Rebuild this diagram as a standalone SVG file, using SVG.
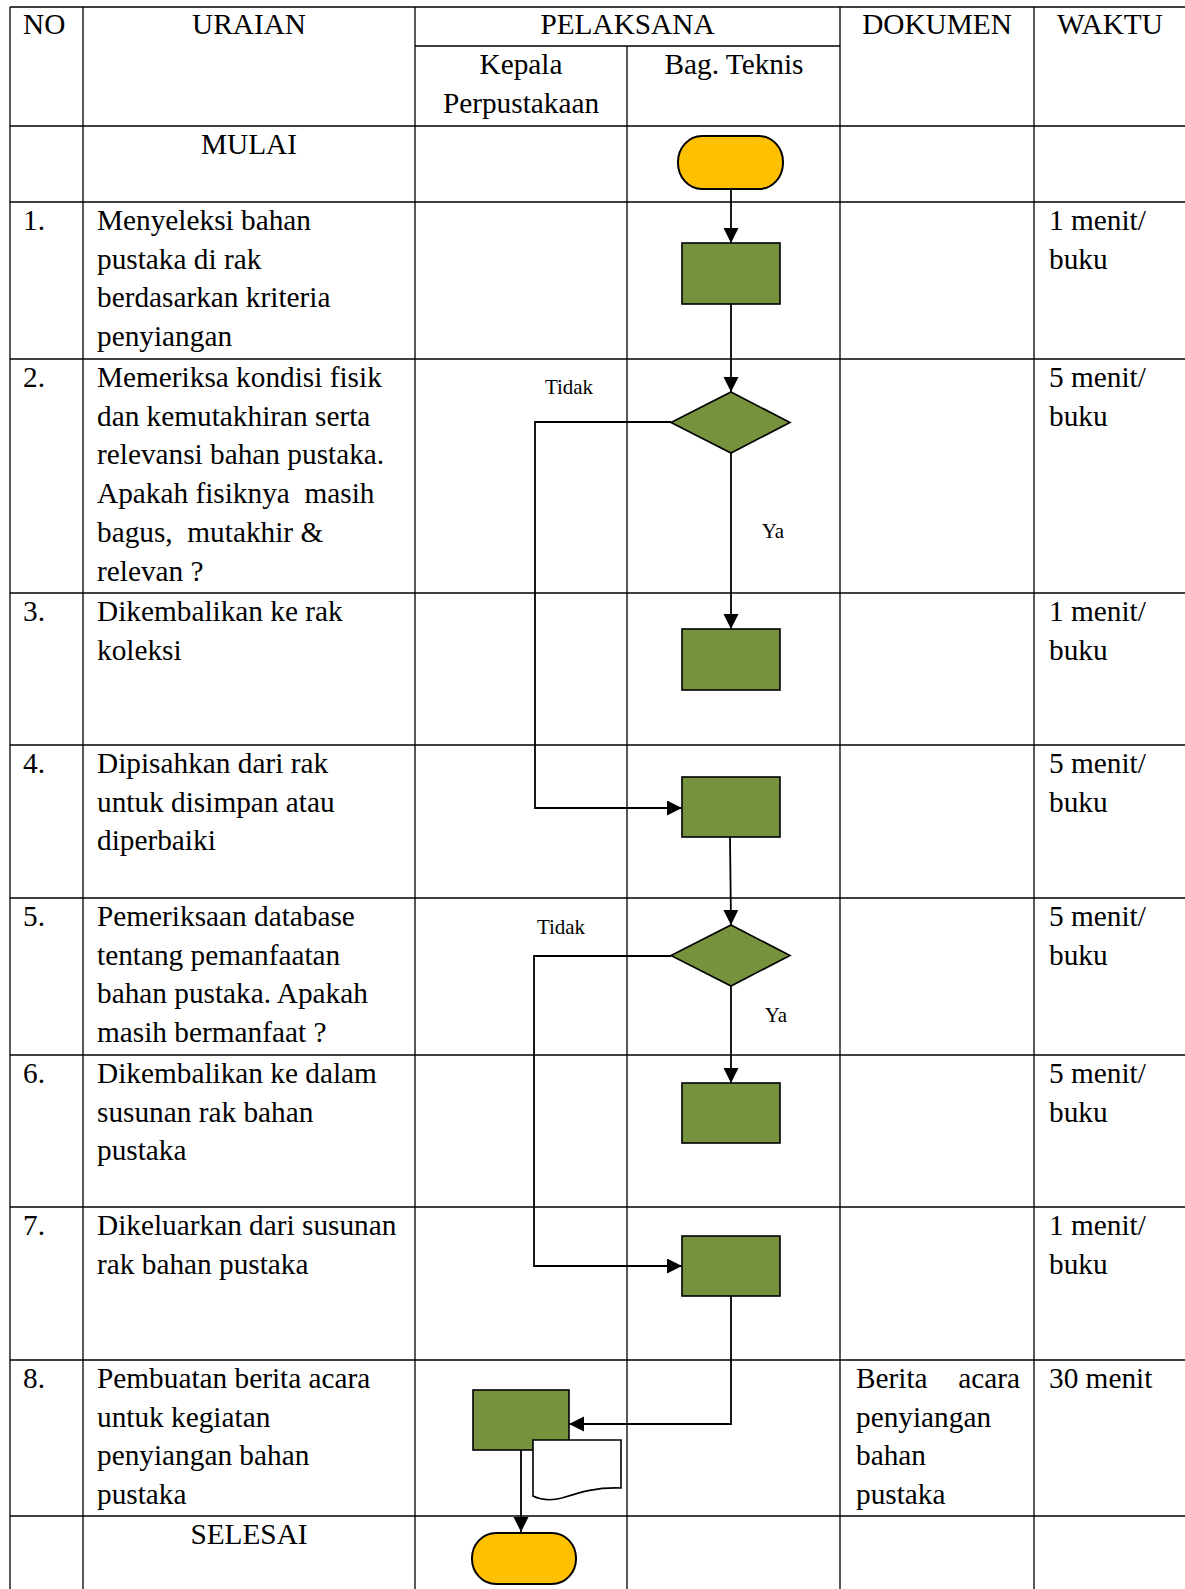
<svg xmlns="http://www.w3.org/2000/svg" width="1185" height="1589" viewBox="0 0 1185 1589">
<defs>
<style>
text{font-family:"Liberation Serif","Times New Roman",serif;font-size:29.3px;fill:#000}
.c{text-anchor:middle}
.s{font-size:21px}
.grid line{stroke:#000;stroke-width:1.3}
.proc{fill:#76923C;stroke:#000;stroke-width:1.6}
.term{fill:#FFC000;stroke:#000;stroke-width:2}
.doc{fill:#fff;stroke:#000;stroke-width:1.6}
.conn path{fill:none;stroke:#000;stroke-width:1.8}
</style>
<marker id="ah" markerUnits="userSpaceOnUse" markerWidth="16" markerHeight="16" refX="15" refY="7.5" orient="auto">
<path d="M0,0 L15,7.5 L0,15 Z" fill="#000"/>
</marker>
</defs>
<rect width="1185" height="1589" fill="#fff"/>
<g id="table" class="grid">
<line x1="10" y1="7" x2="1185" y2="7"/>
<line x1="415" y1="46" x2="840" y2="46"/>
<line x1="10" y1="126" x2="1185" y2="126"/>
<line x1="10" y1="202" x2="1185" y2="202"/>
<line x1="10" y1="359" x2="1185" y2="359"/>
<line x1="10" y1="593" x2="1185" y2="593"/>
<line x1="10" y1="745" x2="1185" y2="745"/>
<line x1="10" y1="898" x2="1185" y2="898"/>
<line x1="10" y1="1055" x2="1185" y2="1055"/>
<line x1="10" y1="1207" x2="1185" y2="1207"/>
<line x1="10" y1="1360" x2="1185" y2="1360"/>
<line x1="10" y1="1516" x2="1185" y2="1516"/>
<line x1="10" y1="7" x2="10" y2="1589"/>
<line x1="83" y1="7" x2="83" y2="1589"/>
<line x1="415" y1="7" x2="415" y2="1589"/>
<line x1="627" y1="46" x2="627" y2="1589"/>
<line x1="840" y1="7" x2="840" y2="1589"/>
<line x1="1034" y1="7" x2="1034" y2="1589"/>
</g>
<g id="header">
<text x="23" y="34">NO</text>
<text x="249" y="34" class="c">URAIAN</text>
<text x="627.5" y="34" class="c">PELAKSANA</text>
<text x="521" y="74" class="c">Kepala</text>
<text x="521" y="113" class="c">Perpustakaan</text>
<text x="734" y="74" class="c">Bag. Teknis</text>
<text x="937" y="34" class="c">DOKUMEN</text>
<text x="1110" y="34" class="c">WAKTU</text>
</g>
<g id="texts">
<text x="249" y="154" class="c">MULAI</text>
<text x="23" y="230">1.</text>
<text x="97" y="230">Menyeleksi bahan</text>
<text x="97" y="268.7">pustaka di rak</text>
<text x="97" y="307.4">berdasarkan kriteria</text>
<text x="97" y="346.1">penyiangan</text>
<text x="1049" y="230">1 menit/</text>
<text x="1049" y="268.7">buku</text>

<text x="23" y="387">2.</text>
<text x="97" y="387">Memeriksa kondisi fisik</text>
<text x="97" y="425.7">dan kemutakhiran serta</text>
<text x="97" y="464.4">relevansi bahan pustaka.</text>
<text x="97" y="503.1" xml:space="preserve">Apakah fisiknya  masih</text>
<text x="97" y="541.8" xml:space="preserve">bagus,  mutakhir &amp;</text>
<text x="97" y="580.5">relevan ?</text>
<text x="1049" y="387">5 menit/</text>
<text x="1049" y="425.7">buku</text>

<text x="23" y="621">3.</text>
<text x="97" y="621">Dikembalikan ke rak</text>
<text x="97" y="659.7">koleksi</text>
<text x="1049" y="621">1 menit/</text>
<text x="1049" y="659.7">buku</text>

<text x="23" y="773">4.</text>
<text x="97" y="773">Dipisahkan dari rak</text>
<text x="97" y="811.7">untuk disimpan atau</text>
<text x="97" y="850.4">diperbaiki</text>
<text x="1049" y="773">5 menit/</text>
<text x="1049" y="811.7">buku</text>

<text x="23" y="926">5.</text>
<text x="97" y="926">Pemeriksaan database</text>
<text x="97" y="964.7">tentang pemanfaatan</text>
<text x="97" y="1003.4">bahan pustaka. Apakah</text>
<text x="97" y="1042.1">masih bermanfaat ?</text>
<text x="1049" y="926">5 menit/</text>
<text x="1049" y="964.7">buku</text>

<text x="23" y="1083">6.</text>
<text x="97" y="1083">Dikembalikan ke dalam</text>
<text x="97" y="1121.7">susunan rak bahan</text>
<text x="97" y="1160.4">pustaka</text>
<text x="1049" y="1083">5 menit/</text>
<text x="1049" y="1121.7">buku</text>

<text x="23" y="1235">7.</text>
<text x="97" y="1235">Dikeluarkan dari susunan</text>
<text x="97" y="1273.7">rak bahan pustaka</text>
<text x="1049" y="1235">1 menit/</text>
<text x="1049" y="1273.7">buku</text>

<text x="23" y="1388">8.</text>
<text x="97" y="1388">Pembuatan berita acara</text>
<text x="97" y="1426.7">untuk kegiatan</text>
<text x="97" y="1465.4">penyiangan bahan</text>
<text x="97" y="1504.1">pustaka</text>
<text x="856" y="1388">Berita</text>
<text x="1020" y="1388" text-anchor="end">acara</text>
<text x="856" y="1426.7">penyiangan</text>
<text x="856" y="1465.4">bahan</text>
<text x="856" y="1504.1">pustaka</text>
<text x="1049" y="1388">30 menit</text>

<text x="249" y="1544" class="c">SELESAI</text>
</g>
<g id="connectors" class="conn">
<path d="M731,189 V243" marker-end="url(#ah)"/>
<path d="M731,304 V392" marker-end="url(#ah)"/>
<path d="M731,453 V629" marker-end="url(#ah)"/>
<path d="M671,422 H535 V808 H682" marker-end="url(#ah)"/>
<path d="M730,837 L731,925" marker-end="url(#ah)"/>
<path d="M731,986 V1083" marker-end="url(#ah)"/>
<path d="M671,956 H534 V1266 H682" marker-end="url(#ah)"/>
<path d="M731,1296 V1424 H569" marker-end="url(#ah)"/>
<path d="M521,1450 V1532" marker-end="url(#ah)"/>
</g>
<g id="labels">
<text x="569" y="394" class="c s">Tidak</text>
<text x="773" y="538" class="c s">Ya</text>
<text x="561" y="934" class="c s">Tidak</text>
<text x="776" y="1022" class="c s">Ya</text>
</g>
<g id="start"><rect class="term" x="678" y="136" width="105" height="53" rx="24" ry="26"/></g>
<g id="step1"><rect class="proc" x="682" y="243" width="98" height="61"/></g>
<g id="decision2"><polygon class="proc" points="731,392 790,422.5 731,453 671,422.5"/></g>
<g id="step3"><rect class="proc" x="682" y="629" width="98" height="61"/></g>
<g id="step4"><rect class="proc" x="682" y="777" width="98" height="60"/></g>
<g id="decision5"><polygon class="proc" points="731,925 790,955.5 731,986 671,955.5"/></g>
<g id="step6"><rect class="proc" x="682" y="1083" width="98" height="60"/></g>
<g id="step7"><rect class="proc" x="682" y="1236" width="98" height="60"/></g>
<g id="step8"><rect class="proc" x="473" y="1390" width="96" height="60"/></g>
<g id="document"><path class="doc" d="M533,1440 H621 V1488 C595,1487 578,1493 562,1498 C550,1501 541,1500 533,1496 Z"/></g>
<g id="end"><rect class="term" x="472" y="1533" width="104" height="51" rx="24" ry="25"/></g>
</svg>
